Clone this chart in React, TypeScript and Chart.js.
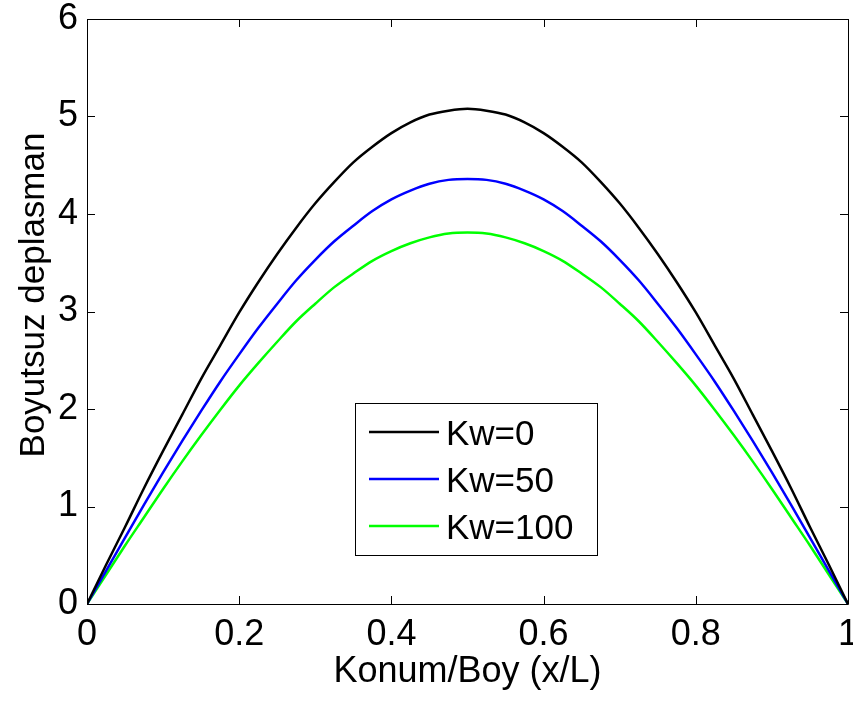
import React, { useEffect, useRef } from "react";
import { Chart, registerables } from "chart.js";

Chart.register(...registerables);

const xValues = [
  0, 0.025, 0.05, 0.075, 0.1, 0.125, 0.15, 0.175, 0.2, 0.225, 0.25, 0.275, 0.3, 0.325, 0.35, 0.375, 0.4, 0.425, 0.45, 0.475,
  0.5, 0.525, 0.55, 0.575, 0.6, 0.625, 0.65, 0.675, 0.7, 0.725, 0.75, 0.775, 0.8, 0.825, 0.85, 0.875, 0.9, 0.925, 0.95, 0.975, 1,
];
const kw0 = [
  0, 0.40, 0.79, 1.19, 1.57, 1.94, 2.31, 2.65, 2.99, 3.30, 3.59, 3.86, 4.11, 4.33, 4.53, 4.69, 4.83, 4.94, 5.02, 5.06,
  5.08, 5.06, 5.02, 4.94, 4.83, 4.69, 4.53, 4.33, 4.11, 3.86, 3.59, 3.30, 2.99, 2.65, 2.31, 1.94, 1.57, 1.19, 0.79, 0.40, 0,
];
const kw50 = [
  0, 0.34, 0.68, 1.02, 1.35, 1.67, 1.98, 2.28, 2.56, 2.83, 3.08, 3.32, 3.53, 3.72, 3.88, 4.03, 4.15, 4.24, 4.31, 4.35,
  4.36, 4.35, 4.31, 4.24, 4.15, 4.03, 3.88, 3.72, 3.53, 3.32, 3.08, 2.83, 2.56, 2.28, 1.98, 1.67, 1.35, 1.02, 0.68, 0.34, 0,
];
const kw100 = [
  0, 0.30, 0.60, 0.89, 1.18, 1.46, 1.73, 1.99, 2.24, 2.47, 2.69, 2.90, 3.08, 3.25, 3.39, 3.52, 3.62, 3.70, 3.76, 3.80,
  3.81, 3.80, 3.76, 3.70, 3.62, 3.52, 3.39, 3.25, 3.08, 2.90, 2.69, 2.47, 2.24, 1.99, 1.73, 1.46, 1.18, 0.89, 0.60, 0.30, 0,
];
const seriesLabels = ["Kw=0", "Kw=50", "Kw=100"];
const seriesColors = ["#000000", "#0000ff", "#00ff00"];
const xTitle = "Konum/Boy (x/L)";
const yTitle = "Boyutsuz deplasman";

const FONT = "'Liberation Sans', Arial, sans-serif";

const framePlugin = {
  id: "frame",
  afterDatasetsDraw(chart: any) {
    const { ctx, chartArea } = chart;
    const { left, right, top, bottom } = chartArea;
    const xs = chart.scales.x;
    const ys = chart.scales.y;
    ctx.save();
    ctx.strokeStyle = "#000";
    ctx.lineWidth = 1;
    ctx.beginPath();
    ctx.rect(Math.round(left) + 0.5, Math.round(top) + 0.5, Math.round(right - left), Math.round(bottom - top));
    ctx.stroke();
    const tl = 8;
    ctx.beginPath();
    xs.ticks.forEach((t: any) => {
      const px = Math.round(xs.getPixelForValue(t.value)) + 0.5;
      ctx.moveTo(px, bottom);
      ctx.lineTo(px, bottom - tl);
      ctx.moveTo(px, top);
      ctx.lineTo(px, top + tl);
    });
    ys.ticks.forEach((t: any) => {
      const py = Math.round(ys.getPixelForValue(t.value)) + 0.5;
      ctx.moveTo(left, py);
      ctx.lineTo(left + tl, py);
      ctx.moveTo(right, py);
      ctx.lineTo(right - tl, py);
    });
    ctx.stroke();

    // axis titles
    ctx.fillStyle = "#000";
    ctx.font = `36px ${FONT}`;
    ctx.textAlign = "center";
    ctx.textBaseline = "alphabetic";
    ctx.fillText(xTitle, (left + right) / 2, 682);
    ctx.save();
    ctx.translate(44, 295);
    ctx.rotate(-Math.PI / 2);
    ctx.font = `35px ${FONT}`;
    ctx.fillText(yTitle, 0, 0);
    ctx.restore();

    // legend
    const lx = 355, ly = 403, lw = 242, lh = 152;
    ctx.fillStyle = "#fff";
    ctx.fillRect(lx, ly, lw, lh);
    ctx.strokeStyle = "#000";
    ctx.lineWidth = 1;
    ctx.strokeRect(lx + 0.5, ly + 0.5, lw, lh);
    ctx.font = `35px ${FONT}`;
    ctx.textAlign = "left";
    ctx.textBaseline = "alphabetic";
    chart.data.datasets.forEach((ds: any, i: number) => {
      const cy = 432 + i * 47;
      ctx.strokeStyle = ds.borderColor;
      ctx.lineWidth = 2.5;
      ctx.beginPath();
      ctx.moveTo(369, cy);
      ctx.lineTo(439, cy);
      ctx.stroke();
      ctx.fillStyle = "#000";
      ctx.fillText(ds.label, 446, cy + 13);
    });
    ctx.restore();
  },
};

export default function App() {
  const ref = useRef<HTMLCanvasElement>(null);
  useEffect(() => {
    if (!ref.current) return;
    const series = [kw0, kw50, kw100];
    const chart = new Chart(ref.current, {
      type: "line",
      data: {
        datasets: series.map((vals, i) => ({
          label: seriesLabels[i],
          data: xValues.map((x, j) => ({ x, y: vals[j] })),
          borderColor: seriesColors[i],
          backgroundColor: seriesColors[i],
          borderWidth: 2.5,
          pointRadius: 0,
          cubicInterpolationMode: "monotone" as const,
          fill: false,
        })),
      },
      options: {
        animation: false,
        responsive: false,
        devicePixelRatio: 1,
        layout: { padding: { top: 19, right: 5, left: 0, bottom: 0 } },
        plugins: { legend: { display: false }, tooltip: { enabled: false } },
        scales: {
          x: {
            type: "linear",
            min: 0,
            max: 1,
            grid: { display: false, drawTicks: false },
            border: { display: false },
            ticks: {
              stepSize: 0.2,
              padding: 9,
              maxRotation: 0,
              color: "#000",
              font: { size: 36, family: FONT },
              callback: (v: any) => String(Math.round(Number(v) * 10) / 10),
            },
            afterFit: (s: any) => {
              s.height = 98;
              s.paddingLeft = 0;
              s.paddingRight = 0;
              s.paddingTop = 0;
              s.paddingBottom = 0;
            },
          },
          y: {
            type: "linear",
            min: 0,
            max: 6,
            grid: { display: false, drawTicks: false },
            border: { display: false },
            ticks: {
              stepSize: 1,
              padding: 9,
              color: "#000",
              font: { size: 36, family: FONT },
            },
            afterFit: (s: any) => {
              s.width = 87;
              s.paddingLeft = 0;
              s.paddingRight = 0;
              s.paddingTop = 0;
              s.paddingBottom = 0;
            },
          },
        },
      },
      plugins: [framePlugin],
    });
    return () => chart.destroy();
  }, []);
  return (
    <div style={{ position: "fixed", left: 0, top: 0, width: 853, height: 702, background: "#fff" }}>
      <canvas ref={ref} width={853} height={702} style={{ width: 853, height: 702, display: "block" }} />
    </div>
  );
}
